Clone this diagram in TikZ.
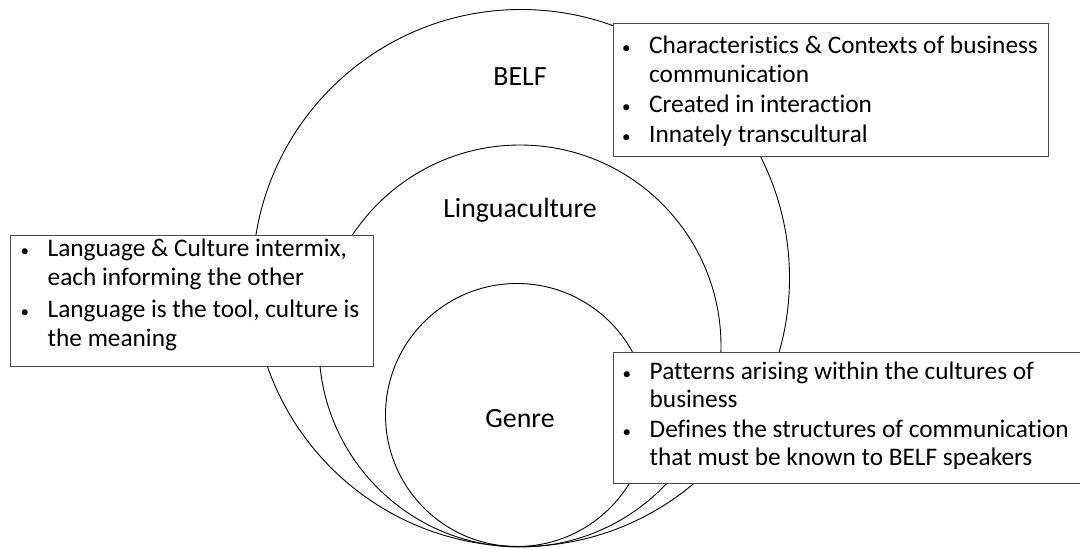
\documentclass[tikz,border=0pt]{standalone}
\usepackage{fontspec}
\setmainfont{Carlito}[Ligatures=NoCommon]
\usetikzlibrary{positioning}

% looks used in the picture
\tikzset{
  ring/.style={draw, circle, line width=0.9pt, inner sep=0pt},
  infobox/.style={draw=black!70, fill=white, line width=1pt, anchor=north west, inner sep=0pt},
  boxtext/.style={anchor=north west, inner sep=0pt},
  circlabel/.style={anchor=base, inner sep=0pt, font=\fontsize{27.8}{30}\selectfont}
}
\newcommand{\bul}{\hspace*{1pt}{\fontsize{17}{17}\selectfont\textbullet}}
\newcommand{\pointlist}[1]{{\fontsize{25.3}{28.5}\selectfont
  \begin{tabular}{@{}p{28pt}@{}l@{}}#1\end{tabular}}}

\begin{document}
\begin{tikzpicture}[x=1pt, y=-1pt]
  \useasboundingbox (0,0) rectangle (1080,549);

  % Nested circles
  \foreach \name/\pos/\d in {belf/{(521,278)}/537, lingua/{(520,346)}/402, genre/{(517,415)}/263} {
    \node[ring, minimum size=\d pt] (\name) at \pos {};
  }

  % Circle labels
  \node[circlabel] (belflabel) at (520,85.7) {BELF};
  \node[circlabel] (lingualabel) at (520,217.9) {Linguaculture};
  \node[circlabel] (genrelabel) at (520,427.5) {Genre};

  % Boxes
  \node[infobox, minimum width=435pt, minimum height=133pt] (belfbox) at (612.5,22.5) {};
  \node[infobox, minimum width=363pt, minimum height=131pt] (linguabox) at (9.5,234.5) {};
  \node[infobox, minimum width=468pt, minimum height=131pt] (genrebox) at (612.5,352) {};

  % Box texts
  \node[boxtext] (belftext) at (621,33.4) {\pointlist{%
    \bul & Characteristics \& Contexts of business\\
    & communication\\[2pt]
    \bul & Created in interaction\\[1pt]
    \bul & Innately transcultural}};
  \node[boxtext] (linguatext) at (19.5,236.8) {\pointlist{%
    \bul & Language \& Culture intermix,\\
    & each informing the other\\[4pt]
    \bul & Language is the tool, culture is\\
    & the meaning}};
  \node[boxtext] (genretext) at (621.5,359.3) {\pointlist{%
    \bul & Patterns arising within the cultures of\\
    & business\\[1pt]
    \bul & Defines the structures of communication\\
    & that must be known to BELF speakers}};
\end{tikzpicture}
\end{document}
